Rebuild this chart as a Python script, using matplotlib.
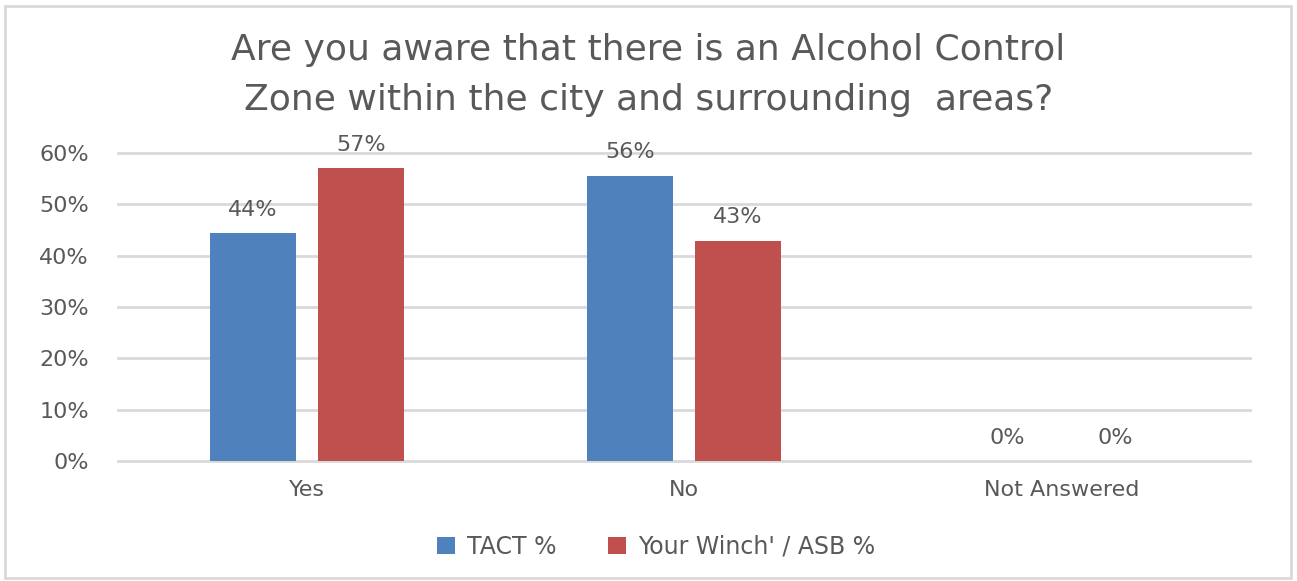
import matplotlib
matplotlib.use("Agg")
import matplotlib.pyplot as plt
import numpy as np
from matplotlib.patches import Rectangle

categories = ["Yes", "No", "Not Answered"]
tact = [44.4, 55.6, 0.0]
winch = [57.1, 42.9, 0.0]
series_names = ["TACT %", "Your Winch' / ASB %"]
yticks = [0, 10, 20, 30, 40, 50, 60]

blue = "#4F81BD"
red = "#C0504D"
txt = "#595959"
fs = 16

fig = plt.figure(figsize=(12.97, 5.81), dpi=100)
ax = fig.add_axes([118/1297, 1-461/581, (1250-118)/1297, (461-153)/581])

x = np.arange(len(categories))
w = 0.228
off = 0.143
b1 = ax.bar(x - off, tact, w, color=blue, label=series_names[0], zorder=3)
b2 = ax.bar(x + off, winch, w, color=red, label=series_names[1], zorder=3)

for bars, vals in ((b1, tact), (b2, winch)):
    for b, v in zip(bars, vals):
        ax.text(b.get_x() + b.get_width()/2, v + 2.6, f"{v:.0f}%", ha="center", va="bottom",
                fontsize=fs, color=txt, family="DejaVu Sans")

ax.set_xlim(-0.5, 2.5)
ax.set_ylim(0, 60)
ax.set_yticks(yticks)
ax.set_yticklabels([f"{t}%" for t in yticks], fontsize=fs, color=txt, family="DejaVu Sans")
ax.set_xticks(x)
ax.set_xticklabels(categories, fontsize=fs, color=txt, family="DejaVu Sans")
ax.tick_params(axis="both", length=0)
ax.tick_params(axis="y", pad=21)
ax.tick_params(axis="x", pad=14)
ax.grid(axis="y", color="#D9D9D9", linewidth=2, zorder=0)
for gl in ax.get_ygridlines():
    gl.set_clip_on(False)
for s in ax.spines.values():
    s.set_visible(False)

fig.text(0.5, 1-50/581, "Are you aware that there is an Alcohol Control", ha="center", va="center",
         fontsize=26, color=txt, family="DejaVu Sans")
fig.text(0.5, 1-100/581, "Zone within the city and surrounding  areas?", ha="center", va="center",
         fontsize=26, color=txt, family="DejaVu Sans")

leg = fig.legend(handles=[b1, b2], labels=series_names, loc="center", bbox_to_anchor=(656/1297, 1-547/581),
                 ncol=2, frameon=False, handlelength=0.75, handleheight=0.75,
                 columnspacing=2.2, handletextpad=0.5, prop={"family": "DejaVu Sans", "size": 17})
for t in leg.get_texts():
    t.set_color(txt)

fig.patches.append(Rectangle((5/1297, 3/581), 1286/1297, 572/581, transform=fig.transFigure,
                             fill=False, edgecolor="#D9D9D9", linewidth=2))

fig.savefig("out.png", dpi=100)
